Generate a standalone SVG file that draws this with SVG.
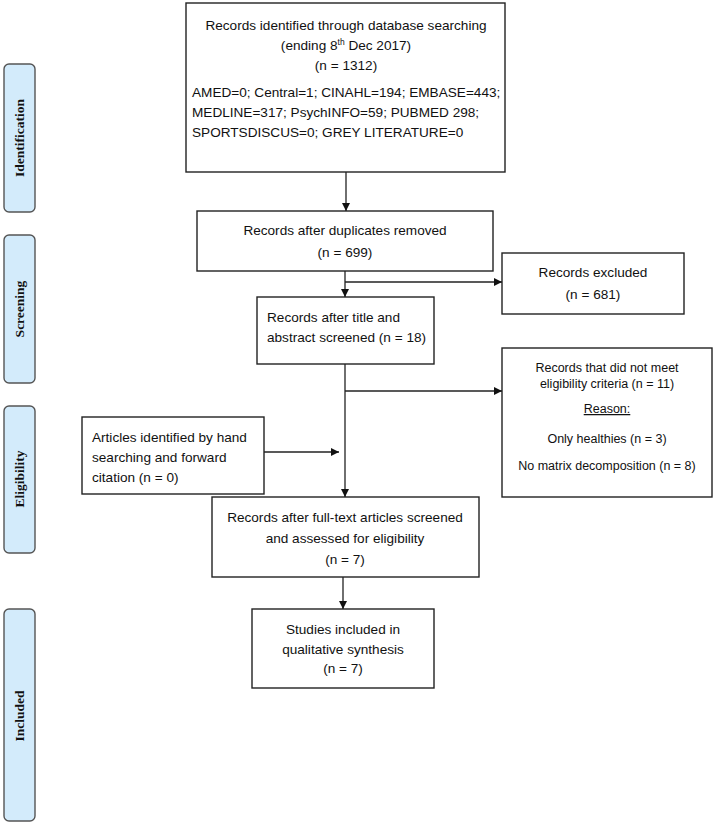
<svg xmlns="http://www.w3.org/2000/svg" width="716" height="825" viewBox="0 0 716 825">
  <style>
    .box{fill:#ffffff;stroke:#222;stroke-width:1.4}
    .side{fill:#d3ebfb;stroke:#555;stroke-width:1.4}
    .t{font-family:"Liberation Sans",Arial,sans-serif;font-size:13.6px;fill:#111}
    .s{font-family:"Liberation Sans",Arial,sans-serif;font-size:12.5px;fill:#111}
    .c{text-anchor:middle}
    .lab{font-family:"Liberation Serif","Times New Roman",serif;font-weight:bold;font-size:13.5px;fill:#111;text-anchor:middle}
    .ln{stroke:#222;stroke-width:1.3;fill:none}
  </style>
  <defs>
    <marker id="ah" markerWidth="8" markerHeight="8" refX="8" refY="4" orient="auto" markerUnits="userSpaceOnUse">
      <path d="M0,0 L8,4 L0,8 Z" fill="#111"/>
    </marker>
  </defs>
  <rect width="716" height="825" fill="#ffffff"/>

  <g id="side-identification">
    <rect class="side" x="4" y="64" width="31" height="148" rx="5"/>
    <text class="lab" transform="translate(24,138) rotate(-90)">Identification</text>
  </g>
  <g id="side-screening">
    <rect class="side" x="4" y="235" width="31" height="148" rx="5"/>
    <text class="lab" transform="translate(24,309) rotate(-90)">Screening</text>
  </g>
  <g id="side-eligibility">
    <rect class="side" x="4" y="406" width="31" height="147" rx="5"/>
    <text class="lab" transform="translate(24,479) rotate(-90)">Eligibility</text>
  </g>
  <g id="side-included">
    <rect class="side" x="4" y="609" width="31" height="212" rx="5"/>
    <text class="lab" transform="translate(24,716) rotate(-90)">Included</text>
  </g>

  <g id="identified">
    <rect class="box" x="186" y="3" width="319" height="169"/>
    <text class="t c" x="346" y="30">Records identified through database searching</text>
    <text class="t c" x="346" y="50">(ending 8<tspan font-size="8.5px" dy="-5">th</tspan><tspan dy="5"> Dec 2017)</tspan></text>
    <text class="t c" x="346" y="70">(n = 1312)</text>
    <text class="t" x="192" y="97">AMED=0; Central=1; CINAHL=194; EMBASE=443;</text>
    <text class="t" x="192" y="117">MEDLINE=317; PsychINFO=59; PUBMED 298;</text>
    <text class="t" x="192" y="137">SPORTSDISCUS=0; GREY LITERATURE=0</text>
  </g>

  <g id="duplicates">
    <rect class="box" x="197" y="211" width="296" height="60"/>
    <text class="t c" x="345" y="235">Records after duplicates removed</text>
    <text class="t c" x="345" y="257">(n = 699)</text>
  </g>

  <g id="excluded">
    <rect class="box" x="502" y="253" width="182" height="61"/>
    <text class="t c" x="593" y="277">Records excluded</text>
    <text class="t c" x="593" y="299">(n = 681)</text>
  </g>

  <g id="title-abstract">
    <rect class="box" x="257" y="297" width="177" height="67"/>
    <text class="t" x="267" y="322">Records after title and</text>
    <text class="t" x="267" y="342">abstract screened (n = 18)</text>
  </g>

  <g id="not-eligible">
    <rect class="box" x="502" y="348" width="210" height="149"/>
    <text class="s c" x="607" y="372">Records that did not meet</text>
    <text class="s c" x="607" y="388">eligibility criteria (n = 11)</text>
    <text class="s c" x="607" y="413" text-decoration="underline">Reason:</text>
    <text class="s c" x="607" y="443">Only healthies (n = 3)</text>
    <text class="s c" x="607" y="470">No matrix decomposition (n = 8)</text>
  </g>

  <g id="hand-search">
    <rect class="box" x="82" y="417" width="182" height="77"/>
    <text class="t" x="92" y="442">Articles identified by hand</text>
    <text class="t" x="92" y="462">searching and forward</text>
    <text class="t" x="92" y="482">citation (n = 0)</text>
  </g>

  <g id="full-text">
    <rect class="box" x="212" y="497" width="267" height="80"/>
    <text class="t c" x="345" y="522">Records after full-text articles screened</text>
    <text class="t c" x="345" y="543">and assessed for eligibility</text>
    <text class="t c" x="345" y="564">(n = 7)</text>
  </g>

  <g id="studies">
    <rect class="box" x="252" y="609" width="182" height="79"/>
    <text class="t c" x="343" y="634">Studies included in</text>
    <text class="t c" x="343" y="654">qualitative synthesis</text>
    <text class="t c" x="343" y="673">(n = 7)</text>
  </g>

  <g id="connectors">
    <line class="ln" x1="346" y1="172" x2="346" y2="211" marker-end="url(#ah)"/>
    <line class="ln" x1="345" y1="271" x2="345" y2="297" marker-end="url(#ah)"/>
    <line class="ln" x1="345" y1="282" x2="502" y2="282" marker-end="url(#ah)"/>
    <line class="ln" x1="345" y1="364" x2="345" y2="497" marker-end="url(#ah)"/>
    <line class="ln" x1="345" y1="391" x2="502" y2="391" marker-end="url(#ah)"/>
    <line class="ln" x1="264" y1="452" x2="339" y2="452" marker-end="url(#ah)"/>
    <line class="ln" x1="343" y1="577" x2="343" y2="609" marker-end="url(#ah)"/>
  </g>
</svg>
